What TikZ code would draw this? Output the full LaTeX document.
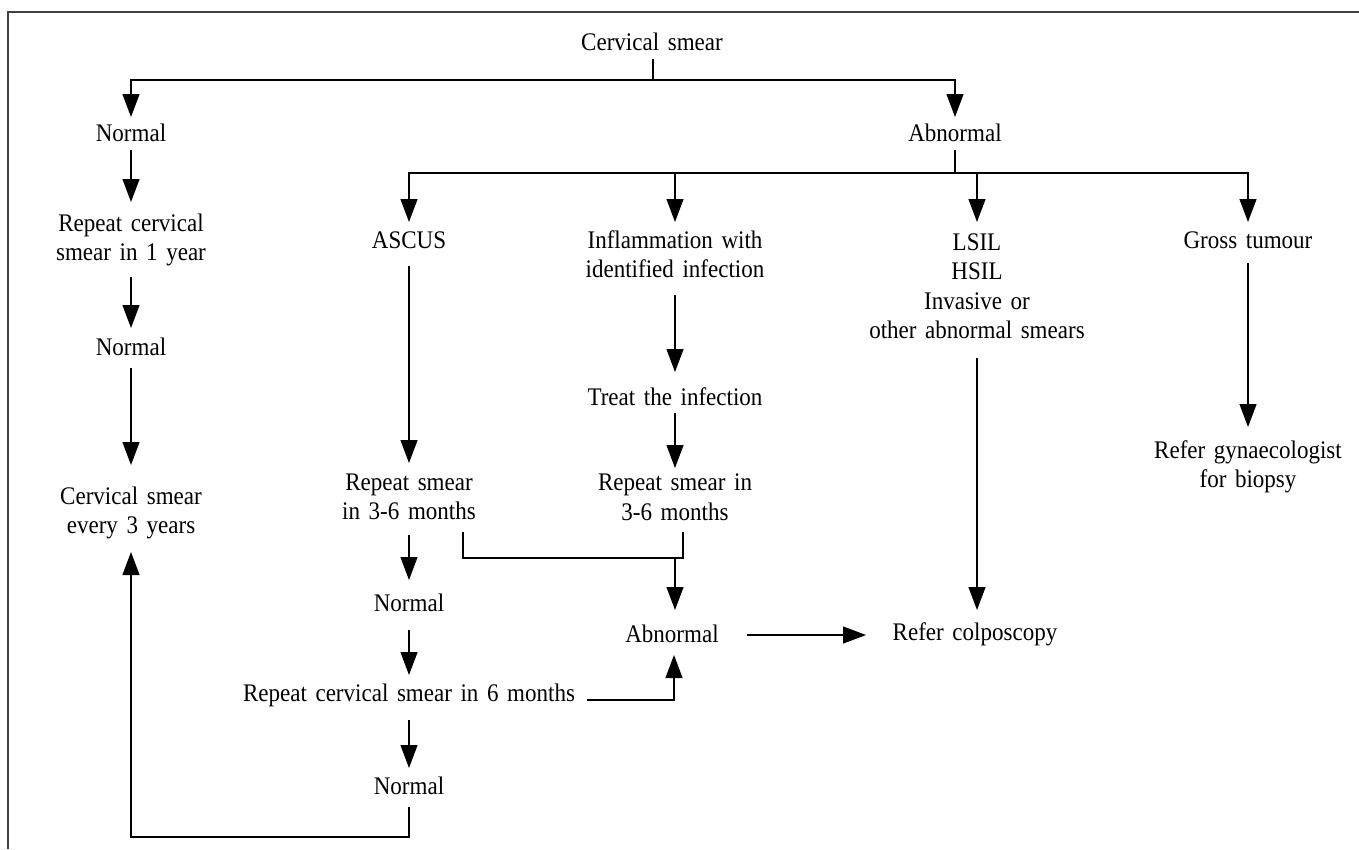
\documentclass[tikz,border=0pt]{standalone}
\usepackage{fontspec}
\setmainfont{Liberation Serif}[FakeStretch=0.91]
\usetikzlibrary{arrows.meta,calc}
\newcommand\diagfont{\fontsize{25.3}{29.5}\selectfont\spaceskip=8.6pt plus 1pt minus 1pt\relax}
\begin{document}
\begin{tikzpicture}[x=1pt,y=-1pt,line width=1.2pt,
  lbl/.style={align=center,inner sep=0pt,font=\diagfont},
  arr/.style={-{Triangle[length=23pt,width=17pt]}}]
\useasboundingbox (0,0) rectangle (1359,849);
\draw[line width=1.6pt,black!75] (8,849) -- (8,12) -- (1359,12);

% nodes
\node[lbl] (cs) at (652,42) {Cervical smear};
\node[lbl] (n1) at (131,133) {Normal};
\node[lbl] (ab1) at (955,133) {Abnormal};
\node[lbl] (rep1) at (131,240) {Repeat cervical\\smear in 1 year};
\node[lbl] (n2) at (131,347) {Normal};
\node[lbl] (every3) at (131,513) {Cervical smear\\every 3 years};
\node[lbl] (ascus) at (409,240) {ASCUS};
\node[lbl] (infl) at (675,254) {Inflammation with\\identified infection};
\node[lbl] (lsil) at (977,286) {LSIL\\HSIL\\Invasive or\\other abnormal smears};
\node[lbl] (gross) at (1248,240) {Gross tumour};
\node[lbl] (treat) at (675,397) {Treat the infection};
\node[lbl] (refgyn) at (1248,467) {Refer gynaecologist\\for biopsy};
\node[lbl] (rep36a) at (409,497) {Repeat smear\\in 3-6 months};
\node[lbl] (rep36b) at (675,497) {Repeat smear in\\3-6 months};
\node[lbl] (n3) at (409,603) {Normal};
\node[lbl] (ab2) at (672,634) {Abnormal};
\node[lbl] (colp) at (975,634) {Refer colposcopy};
\node[lbl] (rep6) at (409,695) {Repeat cervical smear in 6 months};
\node[lbl] (n4) at (409,786) {Normal};

% top split
\draw[arr] ($(cs)+(1,17)$) -- ($(cs)+(1,38)$) -| ($(n1)+(0,-16)$);
\draw[arr] ($(cs)+(1,38)$) -| ($(ab1)+(0,-16)$);
% abnormal split
\draw[arr] ($(ab1)+(0,17)$) -- ($(ab1)+(0,40)$) -| ($(ascus)+(0,-18)$);
\draw[arr] ($(ab1)+(0,40)$) -| ($(infl)+(0,-32)$);
\draw[arr] ($(ab1)+(0,40)$) -| ($(lsil)+(0,-64)$);
\draw[arr] ($(ab1)+(0,40)$) -| ($(gross)+(0,-18)$);
% normal column
\draw[arr] ($(n1)+(0,17)$) -- ($(rep1)+(0,-38)$);
\draw[arr] ($(rep1)+(0,37)$) -- ($(n2)+(0,-19)$);
\draw[arr] ($(n2)+(0,21)$) -- ($(every3)+(0,-48)$);
% ASCUS column
\draw[arr] ($(ascus)+(0,26)$) -- ($(rep36a)+(0,-34)$);
\draw[arr] ($(rep36a)+(0,38)$) -- ($(n3)+(0,-23)$);
\draw[arr] ($(n3)+(0,27)$) -- ($(rep6)+(0,-20)$);
\draw[arr] ($(rep6)+(0,25)$) -- ($(n4)+(0,-18)$);
\draw[arr] ($(n4)+(0,21)$) -- ($(n4)+(0,51)$) -| ($(every3)+(0,39)$);
% infection column
\draw[arr] ($(infl)+(0,41)$) -- ($(treat)+(0,-25)$);
\draw[arr] ($(treat)+(0,16)$) -- ($(rep36b)+(0,-29)$);
% bracket to abnormal
\coordinate (join) at ($(ab2)+(3,-76)$);
\draw ($(rep36a)+(54,35)$) |- ($(rep36b)+(8,61)$) -- ($(rep36b)+(8,35)$);
\draw[arr] (join) -- ($(ab2)+(3,-24)$);
\draw[arr] ($(rep6)+(178,5)$) -| ($(ab2)+(2,21)$);
% to colposcopy
\draw[arr] ($(ab2)+(75,1)$) -- ($(colp)+(-109,1)$);
\draw[arr] ($(lsil)+(0,72)$) -- ($(colp)+(2,-24)$);
% gross tumour
\draw[arr] ($(gross)+(0,23)$) -- ($(refgyn)+(0,-40)$);
\end{tikzpicture}
\end{document}
